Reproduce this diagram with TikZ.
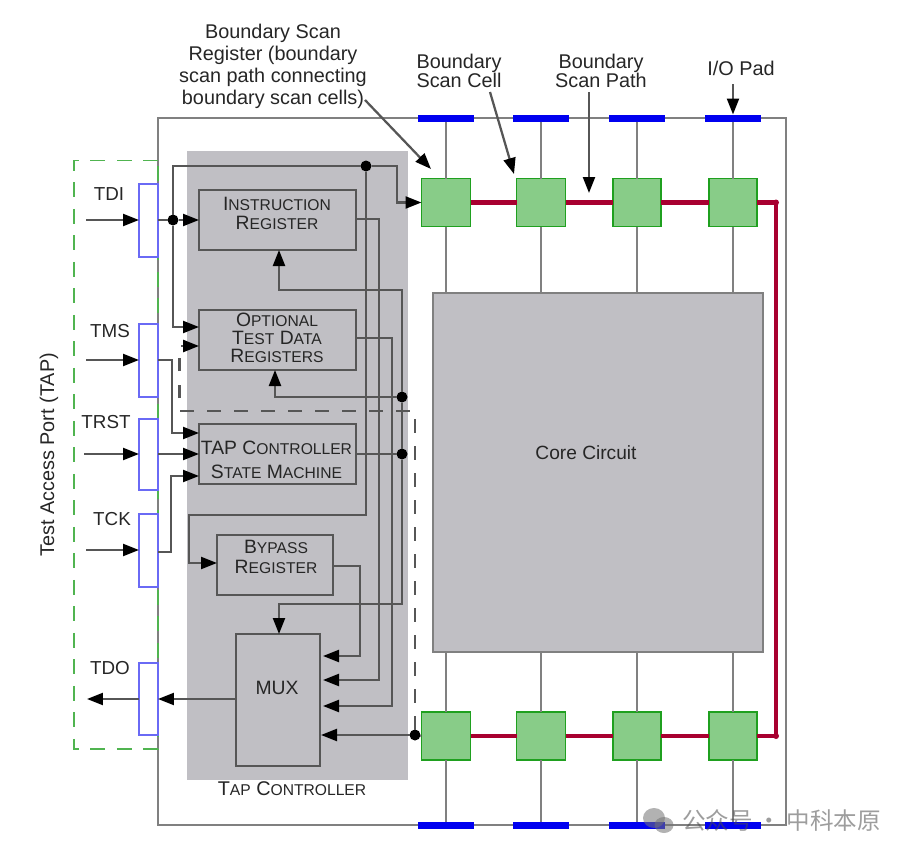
\documentclass[tikz,border=0pt]{standalone}
\usepackage{fontspec}
\setmainfont{Liberation Sans}
\newfontfamily\cjkwm{Noto Sans CJK SC}
\usetikzlibrary{arrows.meta}
\definecolor{tapgray}{HTML}{C0BFC4}
\definecolor{chipline}{HTML}{808080}
\definecolor{wireline}{HTML}{565656}
\definecolor{cellgreen}{HTML}{88CC88}
\definecolor{celledge}{HTML}{1FA01F}
\definecolor{scanred}{HTML}{A80030}
\definecolor{padblue}{HTML}{0000F0}
\definecolor{portblue}{HTML}{6A6AF5}
\definecolor{tapgreen}{HTML}{50B450}
\newcommand\lc[1]{{\fontsize{8.9}{8.9}\selectfont #1}}
\newcommand\pxbox[7]{\node[#6,minimum width={(#4-#2)*0.02cm},minimum height={(#5-#3)*0.02cm}] (#1) at ({(#2+#4)/2},{(#3+#5)/2}) {#7};}
\tikzset{
 x=0.02cm,y=-0.02cm,
 every node/.style={inner sep=0pt,outer sep=0pt},
 lab/.style={font=\fontsize{11.3}{12.5}\selectfont,align=center,text=black!85},
 labtight/.style={font=\fontsize{11.3}{10.9}\selectfont,align=center,text=black!85},
 sig/.style={font=\fontsize{10.7}{12}\selectfont,text=black!85},
 regbox/.style={draw=wireline,line width=0.05cm},
 regtxt/.style={align=center,text=black!85},
 port/.style={draw=portblue,line width=0.04cm,fill=white},
 cell/.style={draw=celledge,line width=0.035cm,fill=cellgreen},
 core/.style={draw=chipline,line width=0.045cm,fill=tapgray},
 pad/.style={draw=none,fill=padblue},
 wire/.style={draw=wireline,line width=0.045cm},
 arr/.style={wire,-{Triangle[length=0.32cm,width=0.24cm,color=black]}},
 pin/.style={draw=chipline,line width=0.045cm},
 dashwire/.style={draw=wireline,line width=0.05cm,dash pattern=on 0.27cm off 0.27cm},
 scan/.style={draw=scanred,line width=0.085cm},
 jdot/.style={circle,fill=black,minimum size=0.22cm},
 rdot/.style={circle,fill=scanred,minimum size=0.12cm},
}
\begin{document}
\begin{tikzpicture}
\useasboundingbox (0,0) rectangle (909,856);
% chip outline and TAP block
\pxbox{chip}{158}{118}{786}{825}{draw=chipline,line width=0.05cm}{}
\pxbox{tap}{187}{151}{408}{780}{fill=tapgray}{}
\draw[draw=tapgreen,line width=0.035cm,dash pattern=on 0.3cm off 0.23cm] (158,160.5) -- (74,160.5) -- (74,749) -- (158,749) -- cycle;
% ports
\pxbox{ptdi}{139}{184}{158}{257}{port}{}
\pxbox{ptms}{139}{324}{158}{397}{port}{}
\pxbox{ptrst}{139}{419}{158}{490}{port}{}
\pxbox{ptck}{139}{514}{158}{587}{port}{}
\pxbox{ptdo}{139}{663}{158}{735}{port}{}
% core and pads
\pxbox{core}{433}{293}{763}{652}{core}{}
\node[font=\fontsize{10.9}{12}\selectfont,text=black!85] (coretxt) at (586,453) {Core Circuit};
\foreach \n/\xa/\xb in {1/418/474,2/513/569,3/609/665,4/705/761}{
 \pxbox{pt\n}{\xa}{114.5}{\xb}{121.5}{pad}{}
 \pxbox{pb\n}{\xa}{821.5}{\xb}{828.5}{pad}{}
}
% cells
\foreach \n/\xa/\xb in {1/421.5/470.5,2/516.5/565.5,3/613/661,4/709/757}{
 \pxbox{ct\n}{\xa}{178.5}{\xb}{226.5}{cell}{}
 \pxbox{cb\n}{\xa}{712}{\xb}{760}{cell}{}
 \draw[pin] (pt\n) -- (ct\n);
 \draw[pin] (pb\n) -- (cb\n);
 \draw[pin] (ct\n) -- (ct\n |- core.north);
 \draw[pin] (cb\n) -- (cb\n |- core.south);
}
% scan path
\node[rdot] (rt) at (776,202.5) {};
\node[rdot] (rb) at (776,736) {};
\draw[scan] (ct1.east) -- (ct2.west);
\draw[scan] (ct2.east) -- (ct3.west);
\draw[scan] (ct3.east) -- (ct4.west);
\draw[scan] (ct4.east) -- (rt.center) -- (rb.center) -- (cb4.east);
\draw[scan] (cb1.east) -- (cb2.west);
\draw[scan] (cb2.east) -- (cb3.west);
\draw[scan] (cb3.east) -- (cb4.west);
% registers
\pxbox{ir}{199}{190}{356}{250}{regbox}{}
\pxbox{otd}{199}{310}{356}{370}{regbox}{}
\pxbox{fsm}{199}{424}{356}{484}{regbox}{}
\pxbox{byp}{217}{535}{333}{595}{regbox}{}
\pxbox{mux}{236}{634}{320}{766}{regbox}{}
\node[regtxt,font=\fontsize{11}{10.8}\selectfont] (irt) at (277,213) {I\lc{NSTRUCTION}\\R\lc{EGISTER}};
\node[regtxt,font=\fontsize{11}{10.2}\selectfont] (otdt) at (277,337.5) {O\lc{PTIONAL}\\T\lc{EST} D\lc{ATA}\\R\lc{EGISTERS}};
\node[regtxt,font=\fontsize{11}{13.6}\selectfont] (fsmt) at (276.5,459.5) {TAP C\lc{ONTROLLER}\\S\lc{TATE} M\lc{ACHINE}};
\node[regtxt,font=\fontsize{11}{11.3}\selectfont] (bypt) at (276,556.5) {B\lc{YPASS}\\R\lc{EGISTER}};
\node[regtxt,font=\fontsize{11}{12}\selectfont] (muxt) at (277,688) {MUX};
% junctions
\node[jdot] (d1) at (173,220) {};
\node[jdot] (d2) at (366,166) {};
\node[jdot] (d3) at (402,397) {};
\node[jdot] (d4) at (402,454) {};
\node[jdot] (d5) at (415,735) {};
% free ends
\coordinate (tdiin) at (86,220);
\coordinate (tmsin) at (86,360);
\coordinate (trstin) at (84,454);
\coordinate (tckin) at (86,550);
\coordinate (tdoout) at (87,699);
\coordinate (bsrtip) at (431,169);
\coordinate (bsctip) at (514,174);
\coordinate (bsptip) at (589,193);
% port wires
\draw[arr] (tdiin) -- (ptdi.west |- tdiin);
\draw[arr] (tmsin) -- (ptms.west |- tmsin);
\draw[arr] (trstin) -- (ptrst.west |- trstin);
\draw[arr] (tckin) -- (ptck.west |- tckin);
\draw[arr] (ptdo.west |- tdoout) -- (tdoout);
\draw[wire] (ptdi.east |- d1) -- (d1);
\draw[arr] (d1) -- (ir.west |- d1);
\draw[arr] (d1) -- (173,327) -- (otd.west |- 0,327);
\draw[arr] (d1) -- (173,166) -- (d2) -- (397,166) -- (397,202.5) -- (ct1.west);
\draw[arr] (ptms.east |- tmsin) -- (172,360) -- (172,433) -- (fsm.west |- 0,433);
\draw[arr] (ptrst.east |- trstin) -- (fsm.west |- trstin);
\draw[arr] (ptck.east |- 0,552) -- (171,552) -- (171,476) -- (fsm.west |- 0,476);
\draw[arr] (d2) -- (366,515) -- (189,515) -- (189,563) -- (byp.west |- 0,563);
\draw[arr] (ir.east |- 0,219) -- (379,219) -- (379,680) -- (323,680);
\draw[arr] (otd.east |- 0,338) -- (392,338) -- (392,706) -- (323,706);
\draw[arr] (byp.east |- 0,566) -- (360,566) -- (360,656) -- (323,656);
\draw[wire] (fsm.east |- d4) -- (d4);
\draw[arr] (d3) -- (402,290) -- (279,290) -- (ir.south -| 279,0);
\draw[arr] (d3) -- (275,397) -- (otd.south -| 275,0);
\draw[wire] (d3) -- (d4);
\draw[arr] (d4) -- (402,604) -- (279,604) -- (mux.north -| 279,0);
\draw[arr] (mux.west |- tdoout) -- (ptdo.east |- tdoout);
\draw[arr] (d5) -- (321,735);
\draw[wire] (d5) -- (cb1.west);
\draw[dashwire,-{Triangle[length=0.32cm,width=0.24cm,color=black]}] (d5) -- (415,411) -- (179.5,411) -- (179.5,346) -- (otd.west |- 0,346);
% labels
\node[lab] (lbsr) at (273,66) {Boundary Scan\\Register (boundary\\scan path connecting\\boundary scan cells)};
\node[labtight] (lbsc) at (459,71) {Boundary\\Scan Cell};
\node[labtight] (lbsp) at (601,71) {Boundary\\Scan Path};
\node[lab] (lio) at (741,68) {I/O Pad};
\draw[arr] (365,100) -- (bsrtip);
\draw[arr] (490,92) -- (bsctip);
\draw[arr] (589,92) -- (bsptip);
\draw[arr] (733,84) -- (pt4.north);
\node[lab,rotate=90] (ltap) at (49,455) {Test Access Port (TAP)};
\node[sig] (ltdi) at (109,194) {TDI};
\node[sig] (ltms) at (110,331) {TMS};
\node[sig] (ltrst) at (106,422) {TRST};
\node[sig] (ltck) at (112,519) {TCK};
\node[sig] (ltdo) at (110,668) {TDO};
\node[lab] (lctl) at (292,789) {T\lc{AP} C\lc{ONTROLLER}};
% watermark
\begin{scope}[opacity=0.55]
\fill[black!55] (654,818) ellipse [x radius=11,y radius=10];
\fill[black!55] (664,825) ellipse [x radius=9.5,y radius=8];
\node[text=black!70,font=\cjkwm\fontsize{13.4}{13.4}\selectfont,anchor=west] (wm) at (682,820) {公众号 · 中科本原};
\end{scope}
\end{tikzpicture}
\end{document}
